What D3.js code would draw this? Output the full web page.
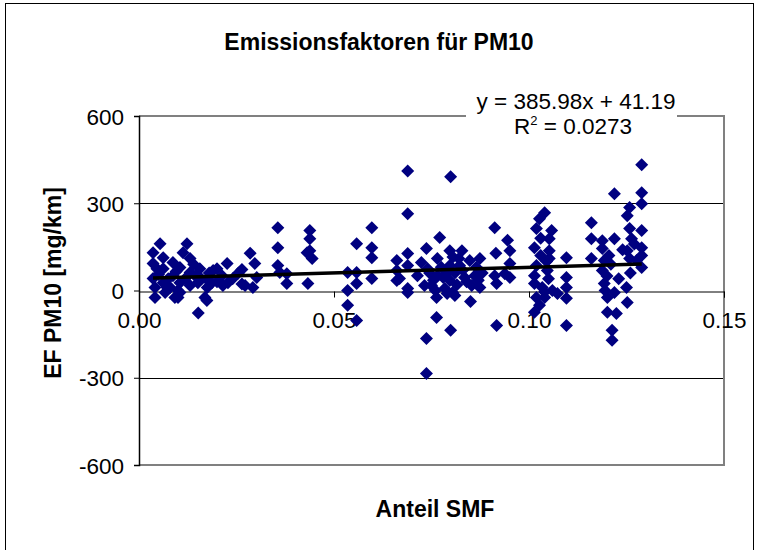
<!DOCTYPE html>
<html>
<head>
<meta charset="utf-8">
<script src="https://cdn.jsdelivr.net/npm/d3@7"></script>
<style>
  html, body { margin: 0; padding: 0; background: #fff; }
  svg { display: block; font-family: "Liberation Sans", Arial, sans-serif; }
</style>
</head>
<body>
<svg id="chart" width="757" height="550"></svg>
<script>
// Share of SMF (x) and PM10 emission factor in mg/km (y), one entry per measurement
const smfShare = [
  0.0054,0.0036,0.0036,0.0036,0.0041,0.0062,0.0062,0.0062,0.0067,0.0046,
  0.0087,0.0087,0.0092,0.0105,0.0105,0.0105,0.0123,0.0113,0.0131,0.0131,
  0.0131,0.0144,0.0156,0.0151,0.0169,0.0152,0.0190,0.0187,0.0213,0.0226,
  0.0215,0.0228,0.0264,0.0264,0.0285,0.0297,0.0292,0.0302,0.0272,
  0.0041,0.0050,0.0075,0.0080,0.0095,0.0100,0.0118,0.0140,0.0160,0.0175,
  0.0180,0.0200,0.0240,0.0255,0.0200,0.0100,0.0072,0.0174,0.0177,
  0.0356,0.0356,0.0356,0.0361,0.0379,0.0379,0.0438,0.0438,0.0431,0.0444,
  0.0438,0.0433,
  0.0535,0.0558,0.0535,0.0558,0.0535,0.0558,0.0597,0.0558,0.0597,0.0597,
  0.0597,0.0661,0.0661,0.0661,0.0689,0.0689,0.0689,0.0689,0.0689,0.0668,
  0.0689,0.0737,0.0724,0.0740,0.0732,0.0714,0.0750,0.0771,0.0765,0.0765,
  0.0763,0.0784,0.0797,0.0797,0.0797,0.0804,0.0828,0.0822,0.0848,0.0874,
  0.0861,0.0853,0.0874,0.0835,0.0799,0.0737,0.0737,0.0763,0.0799,0.0810,
  0.0850,
  0.0745,0.0755,0.0775,0.0780,0.0790,0.0810,0.0815,0.0830,0.0840,0.0760,
  0.0790,0.0820,0.0805,0.0865,0.0880,0.0870,
  0.0912,0.0915,0.0945,0.0951,0.0951,0.0938,0.0951,0.0917,0.0912,0.0917,
  0.1040,0.1027,0.1019,0.1058,0.1052,0.1014,0.1052,0.1052,0.1019,0.1014,
  0.1014,0.1047,0.1034,0.1060,0.1040,0.1019,0.1027,0.1014,0.1073,0.1096,
  0.1096,0.1096,0.1096,0.1096,
  0.1030,0.1045,0.1030,0.1050,0.1040,
  0.1160,0.1160,0.1160,0.1188,0.1219,0.1188,0.1193,0.1188,0.1193,0.1201,
  0.1201,0.1224,0.1219,0.1213,0.1213,0.1219,0.1250,0.1252,0.1258,0.1252,
  0.1258,0.1263,0.1252,0.1258,0.1289,0.1289,0.1289,0.1289,0.1289,0.1289,
  0.1289,0.1276,
  0.1200,0.1210,0.1230,0.1260,0.1240,0.1270,0.1205,0.1195
];
const efPM10 = [
  161,130,93,41,-24,113,75,27,-7,75,
  96,51,-24,79,27,-7,161,130,110,62,
  17,51,75,27,-24,-77,69,27,51,93,
  17,27,72,22,128,93,10,45,17,
  10,55,40,10,65,0,40,90,40,10,
  60,30,40,60,75,-24,10,-34,34,
  216,147,86,62,58,24,206,178,130,110,
  137,24,
  62,62,0,24,-51,-103,216,161,147,113,
  41,103,69,34,411,264,127,86,-7,41,
  7,144,96,75,17,51,17,182,110,51,
  -24,7,137,86,34,-7,137,86,103,110,
  51,17,10,45,391,-165,-285,-93,-137,-17,
  -38,
  60,35,80,45,60,60,20,70,30,0,
  -10,110,115,80,60,35,
  216,128,173,137,93,58,45,24,51,-120,
  267,247,213,206,178,147,137,110,86,51,
  24,69,10,0,-24,-24,-51,-75,-10,113,
  45,10,-27,-120,
  180,100,120,40,-5,
  233,178,110,171,178,144,103,69,24,-24,
  -75,-79,-7,-137,-171,333,10,-41,285,257,
  213,178,137,110,432,336,298,206,147,120,
  79,103,
  50,90,40,60,140,160,120,0
];

// Axis ticks and linear trend
const xTicks = [0, 0.05, 0.10, 0.15];
const yTicks = [-600, -300, 0, 300, 600];
const trendSlope = 385.98;
const trendIntercept = 41.19;
const trendEquation = "y = 385.98x + 41.19";
const trendR2 = "0.0273";

const points = smfShare.map((x, i) => ({ x, y: efPM10[i] }));

const svg = d3.select("#chart");
const plot = { left: 139, right: 724, top: 116, bottom: 465 };

const x = d3.scaleLinear().domain([0, 0.15]).range([plot.left, plot.right]);
const y = d3.scaleLinear().domain([-600, 600]).range([plot.bottom, plot.top]);

svg.append("rect").attr("width", 757).attr("height", 550).attr("fill", "#fff");

// Outer chart frame
svg.append("rect")
  .attr("x", 5.5).attr("y", 3.5).attr("width", 748).attr("height", 560)
  .attr("fill", "none").attr("stroke", "#000").attr("stroke-width", 1);

// Title
svg.append("text")
  .attr("x", 379).attr("y", 50)
  .attr("text-anchor", "middle")
  .attr("font-size", 23).attr("font-weight", "bold")
  .text("Emissionsfaktoren für PM10");

// Horizontal gridlines
svg.append("g")
  .selectAll("line")
  .data(yTicks.filter(v => v !== 0 && Math.abs(v) !== 600))
  .join("line")
  .attr("x1", plot.left).attr("x2", plot.right)
  .attr("y1", d => Math.round(y(d)) + 0.5).attr("y2", d => Math.round(y(d)) + 0.5)
  .attr("stroke", "#000").attr("stroke-width", 1);

// Plot area frame (top, right, bottom)
svg.append("path")
  .attr("d", `M${plot.left},${plot.top}H${plot.right}V${plot.bottom}H${plot.left}`)
  .attr("fill", "none").attr("stroke", "#808080").attr("stroke-width", 2);

// Y axis (plain hyphen for negative numbers)
const yAxis = d3.axisLeft(y).tickValues(yTicks).tickSize(5).tickPadding(5)
  .tickFormat(d => String(d));
const gy = svg.append("g").attr("transform", `translate(${plot.left},0)`).call(yAxis);
gy.select(".domain").attr("stroke", "#000").attr("stroke-width", 1.5);
gy.selectAll(".tick line").attr("stroke", "#000");
gy.selectAll(".tick text")
  .attr("font-size", 22.5).attr("font-family", "Liberation Sans, Arial, sans-serif")
  .attr("fill", "#000").attr("dy", "0.36em").attr("x", -15);

// X axis crossing at y = 0
const xAxis = d3.axisBottom(x).tickValues(xTicks).tickSize(6).tickPadding(0)
  .tickFormat(d3.format(".2f"));
const gx = svg.append("g").attr("transform", `translate(0,${Math.round(y(0)) + 0.5})`).call(xAxis);
gx.select(".domain").attr("stroke", "#000").attr("stroke-width", 1);
gx.selectAll(".tick line").attr("stroke", "#000");
gx.selectAll(".tick text")
  .attr("font-size", 22.5).attr("font-family", "Liberation Sans, Arial, sans-serif")
  .attr("fill", "#000").attr("dy", null).attr("y", 36);

// Data points as diamonds
const r = 6.5;
svg.append("g")
  .selectAll("path")
  .data(points)
  .join("path")
  .attr("transform", d => `translate(${x(d.x)},${y(d.y)})`)
  .attr("d", `M0,${-r}L${r},0L0,${r}L${-r},0Z`)
  .attr("fill", "#000080");

// Linear trendline over the data range
const [xMin, xMax] = d3.extent(smfShare);
svg.append("line")
  .attr("x1", x(xMin)).attr("y1", y(trendSlope * xMin + trendIntercept))
  .attr("x2", x(xMax)).attr("y2", y(trendSlope * xMax + trendIntercept))
  .attr("stroke", "#000").attr("stroke-width", 3.5);

// Trendline label
svg.append("rect")
  .attr("x", 466).attr("y", 88).attr("width", 211).attr("height", 52)
  .attr("fill", "#fff");
svg.append("text")
  .attr("x", 576).attr("y", 109)
  .attr("text-anchor", "middle").attr("font-size", 22.5)
  .text(trendEquation);
const r2 = svg.append("text")
  .attr("x", 573).attr("y", 134)
  .attr("text-anchor", "middle").attr("font-size", 22.5);
r2.append("tspan").text("R");
r2.append("tspan").attr("font-size", 13).attr("dy", -9).text("2");
r2.append("tspan").attr("dy", 9).text(" = " + trendR2);

// Axis titles
svg.append("text")
  .attr("transform", "translate(61,283) rotate(-90)")
  .attr("text-anchor", "middle")
  .attr("font-size", 23).attr("font-weight", "bold")
  .text("EF PM10 [mg/km]");
svg.append("text")
  .attr("x", 435).attr("y", 517)
  .attr("text-anchor", "middle")
  .attr("font-size", 23).attr("font-weight", "bold")
  .text("Anteil SMF");
</script>
</body>
</html>
